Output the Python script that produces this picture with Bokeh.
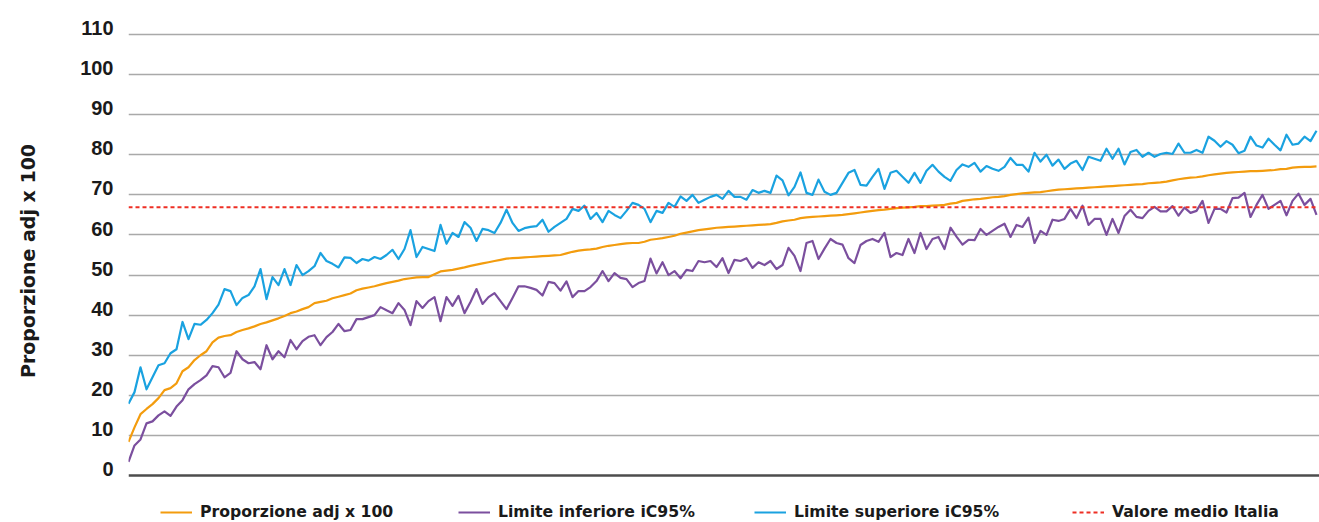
from bokeh.plotting import figure
from bokeh.models import Range1d, LinearAxis, FixedTicker, Span, Legend, LegendItem
from bokeh.embed import file_html
from bokeh.resources import INLINE

# ---- data ----
proporzione_adj = [
    8.4, 12.0, 15.3, 16.6, 17.8, 19.3, 21.3, 21.8, 23.0, 26.0, 27.0, 28.8, 30.0, 31.0, 33.2, 34.4, 34.8, 35.0, 35.8, 36.3,
    36.7, 37.2, 37.8, 38.2, 38.7, 39.2, 39.8, 40.5, 40.9, 41.5, 42.0, 43.0, 43.3, 43.6, 44.2, 44.6, 45.0, 45.4, 46.2, 46.6,
    46.9, 47.2, 47.6, 48.0, 48.3, 48.6, 49.0, 49.2, 49.4, 49.5,
    49.5, 50.2, 50.9, 51.1, 51.3, 51.6, 51.9, 52.3, 52.6, 52.9, 53.2, 53.5, 53.8, 54.1, 54.2, 54.3, 54.4, 54.5, 54.6, 54.7,
    54.8, 54.9, 55.0, 55.4, 55.8, 56.1, 56.3, 56.4, 56.6, 57.0, 57.3, 57.5, 57.7, 57.9, 58.0, 58.0, 58.3, 58.8, 59.0, 59.2,
    59.5, 59.8, 60.3, 60.6, 60.9, 61.2, 61.4, 61.6, 61.8, 61.9, 62.0,
    62.1, 62.2, 62.3, 62.4, 62.5, 62.6, 62.7, 63.0, 63.4, 63.6, 63.8, 64.2, 64.4, 64.5, 64.6, 64.7, 64.8, 64.9, 65.0, 65.2,
    65.4, 65.6, 65.8, 66.0, 66.2, 66.3, 66.5, 66.7, 66.8, 66.9, 67.0, 67.2, 67.2, 67.3, 67.4, 67.5, 67.8, 68.0, 68.5, 68.7,
    68.9, 69.0, 69.2, 69.4, 69.5, 69.7, 70.0, 70.2, 70.4, 70.5,
    70.6, 70.7, 70.9, 71.1, 71.3, 71.4, 71.5, 71.6, 71.7, 71.8, 71.9, 72.0, 72.1, 72.2, 72.3, 72.4, 72.5, 72.6, 72.7, 72.9,
    73.0, 73.1, 73.3, 73.6, 73.9, 74.1, 74.3, 74.4, 74.6, 74.9, 75.1, 75.3, 75.5, 75.6, 75.7, 75.8, 75.9, 75.9, 76.0, 76.1,
    76.2, 76.4, 76.5, 76.8, 76.9, 77.0, 77.0, 77.1,
]

limite_inferiore = [
    3.4, 7.5, 9.0, 13.0, 13.5, 15.0, 16.0, 14.9, 17.2, 18.8, 21.5, 22.8, 23.8, 25.0, 27.3, 27.0, 24.5, 25.6, 31.0, 29.0,
    28.0, 28.3, 26.5, 32.5, 29.0, 31.0, 29.5, 33.8, 31.5, 33.5, 34.6, 35.0, 32.5, 34.5, 35.8, 37.8, 36.0, 36.3, 39.0, 39.0,
    39.5, 40.0, 42.0, 41.2, 40.5, 43.0, 41.3, 37.5, 43.5, 41.8,
    43.5, 44.5, 38.5, 44.5, 42.3, 44.8, 40.5, 43.3, 46.5, 42.8, 44.5, 45.5, 43.5, 41.5, 44.3, 47.2, 47.2, 46.8, 46.3, 44.9,
    48.3, 48.0, 46.1, 48.4, 44.5, 46.0, 46.0, 47.0, 48.5, 51.0, 48.5, 50.5, 49.3, 49.0, 47.0, 48.0, 48.5, 54.1, 50.4, 53.2,
    50.0, 51.0, 49.2, 51.3, 51.0, 53.5, 53.2, 53.5, 52.0, 54.2, 50.5,
    53.8, 53.5, 54.2, 51.8, 53.2, 52.5, 53.5, 51.5, 52.5, 56.8, 54.8, 51.0, 58.0, 58.5, 54.0, 56.6, 59.0, 58.0, 57.6, 54.2,
    53.0, 57.5, 58.5, 59.0, 58.3, 60.5, 54.5, 55.5, 55.0, 59.0, 55.5, 60.5, 56.5, 59.0, 59.5, 56.5, 61.8, 59.6, 57.6, 58.8,
    58.7, 61.5, 60.0, 61.0, 62.0, 62.8, 59.5, 62.5, 62.0, 64.3,
    58.0, 61.0, 60.0, 63.8, 63.5, 64.0, 66.5, 64.2, 67.3, 62.5, 64.0, 64.0, 60.0, 64.0, 60.5, 64.7, 66.3, 64.5, 64.2, 66.0,
    67.0, 65.9, 65.9, 67.2, 64.8, 66.8, 65.5, 66.0, 68.5, 63.0, 66.5, 66.5, 65.6, 69.2, 69.3, 70.5, 64.5, 67.5, 70.0, 66.5,
    67.5, 68.5, 64.9, 68.5, 70.3, 67.5, 69.0, 65.0,
]

limite_superiore = [
    17.9, 20.8, 27.0, 21.5, 24.5, 27.5, 28.0, 30.5, 31.5, 38.3, 34.0, 37.8, 37.6, 38.8, 40.5, 42.6, 46.5, 46.0, 42.5, 44.3,
    45.0, 47.2, 51.5, 44.0, 49.5, 47.5, 51.5, 47.5, 52.5, 50.0, 51.0, 52.2, 55.5, 53.5, 52.8, 51.9, 54.4, 54.3, 53.0, 54.0,
    53.6, 54.5, 54.0, 55.0, 56.3, 54.0, 56.5, 61.2, 54.5, 57.0,
    56.5, 56.0, 62.5, 57.8, 60.5, 59.5, 63.2, 61.8, 58.5, 61.5, 61.2, 60.5, 63.0, 66.3, 63.0, 61.0, 61.7, 62.0, 62.2, 63.8,
    60.8, 62.0, 63.0, 64.0, 66.5, 66.0, 67.3, 64.0, 65.5, 63.2, 66.0, 65.0, 64.2, 66.0, 68.0, 67.5, 66.5, 63.2, 66.0, 65.5,
    68.0, 67.0, 69.6, 68.5, 70.0, 68.0, 68.8, 69.5, 70.0, 69.0, 71.0,
    69.5, 69.5, 68.8, 71.2, 70.5, 71.0, 70.5, 74.8, 73.6, 69.9, 72.0, 75.6, 70.5, 70.0, 73.8, 70.8, 70.0, 70.5, 73.0, 75.5,
    76.2, 72.5, 72.3, 74.5, 76.5, 71.5, 75.5, 76.0, 74.5, 73.0, 75.5, 73.0, 76.0, 77.5, 75.8, 74.5, 73.5, 76.2, 77.6, 77.0,
    78.0, 75.8, 77.2, 76.5, 76.0, 77.0, 79.2, 77.5, 77.5, 75.8,
    80.5, 78.3, 80.0, 77.3, 78.8, 76.5, 77.8, 78.5, 76.2, 79.5, 79.0, 78.5, 81.5, 79.0, 81.5, 77.6, 80.7, 81.2, 79.5, 80.5,
    79.5, 80.2, 80.5, 80.2, 82.8, 80.5, 80.5, 81.2, 80.5, 84.5, 83.5, 82.0, 83.4, 82.5, 80.4, 81.0, 84.5, 82.3, 81.8, 84.0,
    82.5, 81.1, 85.0, 82.5, 82.8, 84.5, 83.4, 86.0,
]

posizione = list(range(len(proporzione_adj)))
valore_medio_italia = 66.9
y_ticks = [0, 10, 20, 30, 40, 50, 60, 70, 80, 90, 100, 110]
legend_labels = ["Proporzione adj x 100", "Limite inferiore iC95%", "Limite superiore iC95%", "Valore medio Italia"]

# ---- styling ----
C_ORANGE = "#f39c0e"
C_PURPLE = "#7b4f9e"
C_BLUE = "#1aa2e0"
C_RED = "#ee2f24"
TXT = "#1a1a1a"

# the frame spans the whole height so the legend can sit inside it
Y0, Y1 = -11.47, 118.48
p = figure(width=1319, height=522, output_backend="svg", toolbar_location=None,
           x_range=Range1d(0, len(posizione) - 0.5), y_range=Range1d(Y0, Y1),
           x_axis_location=None, y_axis_location=None,
           min_border_left=128, min_border_right=0, min_border_top=0, min_border_bottom=1)
p.outline_line_color = None
p.background_fill_color = "white"
p.xgrid.visible = False
p.ygrid.ticker = FixedTicker(ticks=y_ticks[1:])
p.ygrid.grid_line_color = "#a9a9a9"
p.ygrid.grid_line_width = 1.5

# tick labels sit slightly above their gridlines in the reference
shift = 1.6
p.extra_y_ranges = {"etichette": Range1d(Y0 - shift, Y1 - shift)}
ax = LinearAxis(y_range_name="etichette", ticker=FixedTicker(ticks=y_ticks),
                axis_label="Proporzione adj x 100")
ax.axis_line_color = None
ax.major_tick_line_color = None
ax.minor_tick_line_color = None
ax.major_tick_out = 0
ax.major_tick_in = 0
ax.minor_tick_out = 0
ax.major_label_standoff = 15
ax.major_label_text_font = "Liberation Sans"
ax.major_label_text_font_style = "bold"
ax.major_label_text_font_size = "20px"
ax.major_label_text_color = TXT
ax.axis_label_text_font = "DejaVu Sans"
ax.axis_label_text_font_style = "bold"
ax.axis_label_text_font_size = "19px"
ax.axis_label_text_color = TXT
ax.axis_label_standoff = 38
p.add_layout(ax, "left")

p.add_layout(Span(location=0, dimension="width", line_color="#4d4d4d", line_width=2.5))

r_prop = p.line(posizione, proporzione_adj, line_color=C_ORANGE, line_width=2.2, line_join="round")
r_inf = p.line(posizione, limite_inferiore, line_color=C_PURPLE, line_width=2.2, line_join="round")
r_sup = p.line(posizione, limite_superiore, line_color=C_BLUE, line_width=2.2, line_join="round")
r_med = p.line([posizione[0], posizione[-1]], [valore_medio_italia, valore_medio_italia],
               line_color=C_RED, line_width=2, line_dash="4 3")

for r, lab, vx in zip([r_prop, r_inf, r_sup, r_med], legend_labels, [32, 330, 626, 944]):
    lg = Legend(items=[LegendItem(label=lab, renderers=[r])], location=(vx, 0),
                orientation="horizontal", padding=0, margin=0, spacing=0,
                border_line_color=None, background_fill_alpha=0,
                glyph_width=32, glyph_height=14, label_standoff=8, label_height=18,
                label_text_font="DejaVu Sans", label_text_font_style="bold",
                label_text_font_size="15.7px", label_text_color=TXT)
    p.add_layout(lg, "center")

open("out.html", "w").write(file_html(p, INLINE))
